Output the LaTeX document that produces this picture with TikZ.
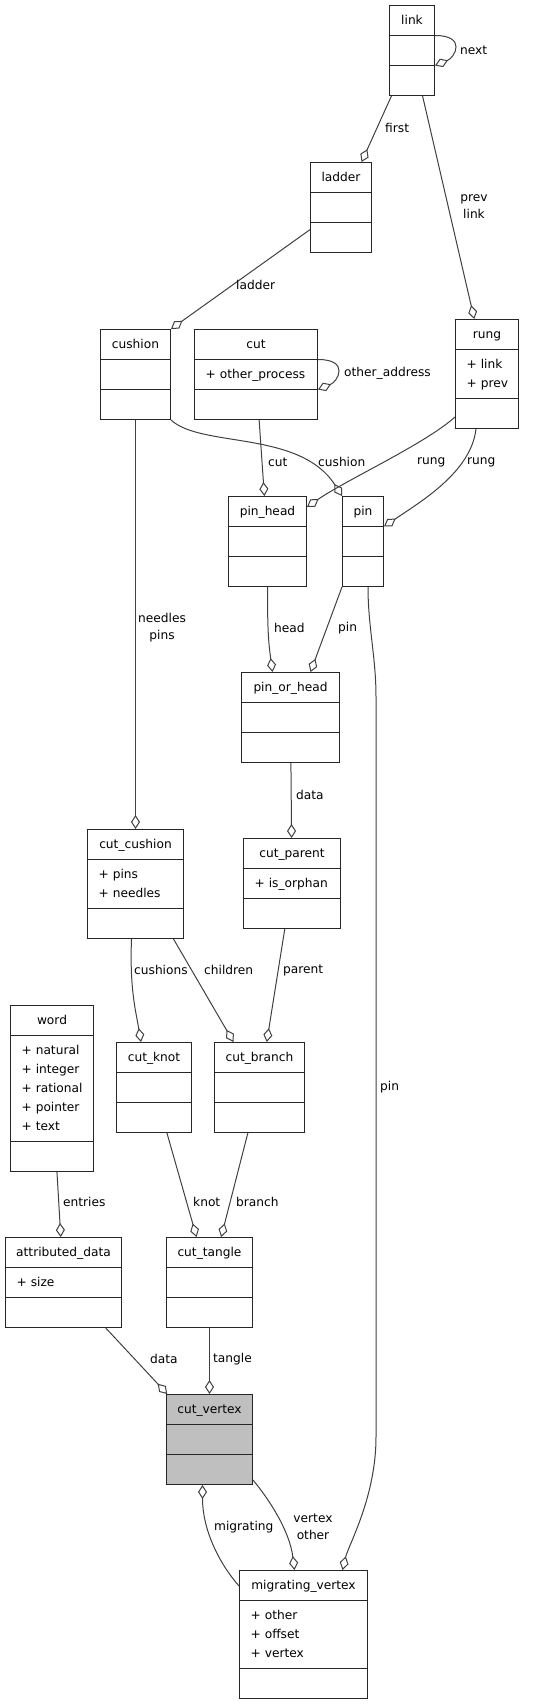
\documentclass[tikz,border=0pt]{standalone}
\usepackage{fontspec}
\setmainfont{DejaVu Sans}
\usetikzlibrary{arrows.meta,shapes.multipart}
\definecolor{edgegray}{HTML}{404040}
\definecolor{vertexgray}{HTML}{BFBFBF}
\newcommand{\classfont}{\fontsize{12.2}{19}\selectfont}
\newcommand{\lblfont}{\fontsize{12.2}{17}\selectfont}
\newcommand{\cname}[1]{\hbox to\hsize{\hss\strut#1\hss}}
\newcommand{\attr}[1]{\mbox{\strut+ #1}}
\tikzset{
  uses/.style={draw=edgegray, line width=1pt, -{Diamond[open,length=14pt,width=9pt]}},
  classbox/.style={
    rectangle split,
    rectangle split parts=3,
    draw=black!85,
    line width=1pt,
    fill=white,
    anchor=north west,
    font=\classfont,
    inner xsep=11pt,
    inner ysep=5pt,
    text width=#1
  },
  lbl/.style={font=\lblfont, inner sep=0pt, anchor=west}
}

\begin{document}
\begin{tikzpicture}[x=1pt,y=-1pt]
  \useasboundingbox (0,0) rectangle (540,1704);

  % classes
  \node[classbox=23pt] (link) at (389,5)
    {\cname{link}\nodepart{two}\strut\nodepart{three}\strut};
  \node[classbox=39pt] (ladder) at (310,162)
    {\cname{ladder}\nodepart{two}\strut\nodepart{three}\strut};
  \node[classbox=48pt] (cushion) at (100,329)
    {\cname{cushion}\nodepart{two}\strut\nodepart{three}\strut};
  \node[classbox=101pt] (cut) at (194,329)
    {\cname{cut}\nodepart{two}\attr{other\_process}\nodepart{three}\strut};
  \node[classbox=41pt] (rung) at (455,319)
    {\cname{rung}\nodepart{two}\attr{link}\\\attr{prev}\nodepart{three}\strut};
  \node[classbox=56pt] (pinhead) at (228,496)
    {\cname{pin\_head}\nodepart{two}\strut\nodepart{three}\strut};
  \node[classbox=19pt] (pin) at (342,496)
    {\cname{pin}\nodepart{two}\strut\nodepart{three}\strut};
  \node[classbox=76pt] (pinorhead) at (241,672)
    {\cname{pin\_or\_head}\nodepart{two}\strut\nodepart{three}\strut};
  \node[classbox=74pt] (cutcushion) at (87,829)
    {\cname{cut\_cushion}\nodepart{two}\attr{pins}\\\attr{needles}\nodepart{three}\strut};
  \node[classbox=75pt] (cutparent) at (243,838)
    {\cname{cut\_parent}\nodepart{two}\attr{is\_orphan}\nodepart{three}\strut};
  \node[classbox=61pt] (word) at (10,1005)
    {\cname{word}\nodepart{two}\attr{natural}\\\attr{integer}\\\attr{rational}\\\attr{pointer}\\\attr{text}\nodepart{three}\strut};
  \node[classbox=53pt] (cutknot) at (116,1042)
    {\cname{cut\_knot}\nodepart{two}\strut\nodepart{three}\strut};
  \node[classbox=68pt] (cutbranch) at (214,1042)
    {\cname{cut\_branch}\nodepart{two}\strut\nodepart{three}\strut};
  \node[classbox=94pt] (attrdata) at (5,1237)
    {\cname{attributed\_data}\nodepart{two}\attr{size}\nodepart{three}\strut};
  \node[classbox=64pt] (cuttangle) at (166,1237)
    {\cname{cut\_tangle}\nodepart{two}\strut\nodepart{three}\strut};
  \node[classbox=64pt, fill=vertexgray] (cutvertex) at (166,1394)
    {\cname{cut\_vertex}\nodepart{two}\strut\nodepart{three}\strut};
  \node[classbox=106pt] (migvertex) at (239,1570)
    {\cname{migrating\_vertex}\nodepart{two}\attr{other}\\\attr{offset}\\\attr{vertex}\nodepart{three}\strut};

  % members
  \draw[uses] (link.text split east) .. controls +(32,0) and +(20,-8) .. (link.two split east);
  \draw[uses] (link) -- (ladder);
  \draw[uses] (link) -- (rung);
  \draw[uses] (ladder) -- (cushion.north east);
  \draw[uses] (cut.text split east) .. controls +(32,0) and +(20,-8) .. (cut.two split east);
  \draw[uses] (cushion.south east) .. controls +(30,28) and +(-42,-66) .. (pin.north west);
  \draw[uses] (cut) -- (pinhead);
  \draw[uses] ([yshift=12pt]rung.south west) .. controls +(-30,27) and +(39,-27) .. ([yshift=-11pt]pinhead.north east);
  \draw[uses] ([xshift=-11pt]rung.south) .. controls +(-5,43) and +(37,-25) .. (pin.text split east);
  \draw[uses] (cushion) -- (cutcushion);
  \draw[uses] (pinhead.south) .. controls +(0,45) and +(-4,-30) .. ([xshift=-18pt]pinorhead.north);
  \draw[uses] (pin.south west) -- ([xshift=20pt]pinorhead.north);
  \draw[uses] ([xshift=5pt]pin.south) .. controls +(0,40) and +(0,-40) .. ++(8,110)
    -- ++(0,740) .. controls +(0,60) and +(6,-25) .. ([xshift=39pt]migvertex.north);
  \draw[uses] (pinorhead) -- (cutparent);
  \draw[uses] ([xshift=-4pt]cutcushion.south) .. controls +(-2,50) and +(-5,-30) .. ([xshift=-13pt]cutknot.north);
  \draw[uses] ([xshift=38pt]cutcushion.south) -- ([xshift=-26pt]cutbranch.north);
  \draw[uses] (cutparent) -- (cutbranch);
  \draw[uses] (word) -- (attrdata);
  \draw[uses] (cutknot) -- (cuttangle);
  \draw[uses] (cutbranch) -- (cuttangle);
  \draw[uses] (attrdata) -- (cutvertex);
  \draw[uses] (cuttangle) -- (cutvertex);
  \draw[uses] ([yshift=-16pt]migvertex.north west) .. controls +(-20,-23) and +(0,45) .. ([xshift=-7pt]cutvertex.south);
  \draw[uses] ([yshift=5pt]cutvertex.south east) .. controls +(15,18) and +(-5,-40) .. ([xshift=-9pt]migvertex.north);

  % labels
  \node[lbl] (lnext) at (460,50) {next};
  \node[lbl] (lfirst) at (385,128) {first};
  \node[lbl, anchor=center, align=center] (lprevlink) at (474,207) {prev\\link};
  \node[lbl] (lladder) at (236,285) {ladder};
  \node[lbl] (lotheraddr) at (344,373) {other\_address};
  \node[lbl] (lcut) at (268,462) {cut};
  \node[lbl] (lcushion) at (318,462) {cushion};
  \node[lbl] (lrung) at (417,462) {rung};
  \node[lbl] (lrungpin) at (467,462) {rung};
  \node[lbl, anchor=center, align=center] (lneedles) at (162,628) {needles\\pins};
  \node[lbl] (lhead) at (274,628) {head};
  \node[lbl] (lpin) at (338,628) {pin};
  \node[lbl] (ldata) at (296,795) {data};
  \node[lbl] (lcushions) at (134,970) {cushions};
  \node[lbl] (lchildren) at (204,970) {children};
  \node[lbl] (lparent) at (283,970) {parent};
  \node[lbl] (lpinmig) at (380,1087) {pin};
  \node[lbl] (lentries) at (63,1202) {entries};
  \node[lbl] (lknot) at (193,1202) {knot};
  \node[lbl] (lbranch) at (236,1202) {branch};
  \node[lbl] (ldatavert) at (150,1359) {data};
  \node[lbl] (ltangle) at (213,1359) {tangle};
  \node[lbl] (lmigrating) at (214,1527) {migrating};
  \node[lbl, anchor=center, align=center] (lvertexother) at (313,1527) {vertex\\other};
\end{tikzpicture}
\end{document}
